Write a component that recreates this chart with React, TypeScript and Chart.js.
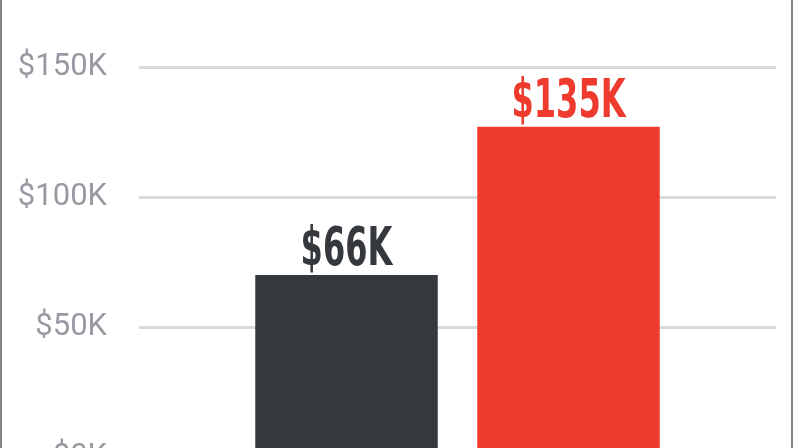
import { useEffect, useRef } from 'react'
import { Chart, registerables } from 'chart.js'

Chart.register(...registerables)

// data
const groups = ['']
const seriesNames = ['Before', 'After']
const seriesValues = [70, 127]
const valueLabels = ['$66K', '$135K']
const seriesColors = ['#35383d', '#ef3b2e']
const yTicks = [0, 50, 100, 150]

const valueLabelPlugin = {
  id: 'valueLabels',
  afterDatasetsDraw(chart: Chart) {
    const ctx = chart.ctx
    chart.data.datasets.forEach((ds, i) => {
      const bar = chart.getDatasetMeta(i).data[0]
      if (!bar) return
      ctx.save()
      ctx.translate(bar.x, bar.y - 10)
      ctx.scale(0.66, 1)
      ctx.font = 'bold 54px "DejaVu Sans Condensed", "DejaVu Sans", sans-serif'
      ctx.fillStyle = seriesColors[i]
      ctx.textAlign = 'center'
      ctx.textBaseline = 'alphabetic'
      ctx.fillText(valueLabels[i], 0, 0)
      ctx.restore()
    })
  }
}

export default function App() {
  const canvasRef = useRef<HTMLCanvasElement>(null)
  const chartRef = useRef<Chart | null>(null)

  useEffect(() => {
    if (!canvasRef.current) return
    if (chartRef.current) chartRef.current.destroy()

    chartRef.current = new Chart(canvasRef.current, {
      type: 'bar',
      data: {
        labels: groups,
        datasets: seriesNames.map((name, i) => ({
          label: name,
          data: [seriesValues[i]],
          backgroundColor: seriesColors[i],
          borderWidth: 0
        }))
      },
      options: {
        animation: false,
        responsive: true,
        maintainAspectRatio: false,
        categoryPercentage: 0.697,
        barPercentage: 0.822,
        layout: { padding: { top: 67, bottom: 43, left: 0, right: 17 } },
        plugins: {
          legend: { display: false },
          tooltip: { enabled: false }
        },
        scales: {
          x: { display: false },
          y: {
            min: 0,
            max: 150,
            afterFit: (scale: any) => {
              scale.width = 139
            },
            afterBuildTicks: (scale: any) => {
              scale.ticks = yTicks.map((v) => ({ value: v }))
            },
            border: { display: false },
            grid: {
              color: '#d6dcdd',
              lineWidth: 3,
              drawTicks: true,
              tickLength: 32,
              tickColor: 'rgba(0,0,0,0)'
            },
            ticks: {
              padding: 0,
              color: '#979ba1',
              font: { family: 'Roboto', size: 31, weight: 400 },
              callback: (value: any) => '$' + value + 'K'
            }
          }
        }
      },
      plugins: [valueLabelPlugin]
    })

    return () => {
      if (chartRef.current) {
        chartRef.current.destroy()
        chartRef.current = null
      }
    }
  }, [])

  return (
    <div
      style={{
        position: 'fixed',
        left: 0,
        top: 0,
        width: 793,
        height: 448,
        overflow: 'hidden',
        background: '#fff'
      }}
    >
      <div style={{ position: 'relative', width: 793, height: 500 }}>
        <canvas ref={canvasRef} />
      </div>
      <div style={{ position: 'absolute', left: 0, top: 0, width: 2, height: 448, background: '#858585' }} />
      <div style={{ position: 'absolute', left: 791, top: 0, width: 2, height: 448, background: '#858585' }} />
    </div>
  )
}
